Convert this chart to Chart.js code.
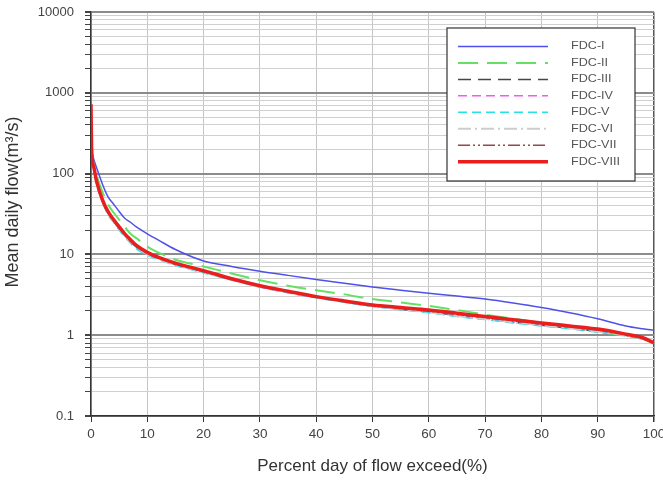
<!DOCTYPE html>
<html>
<head>
<meta charset="utf-8">
<script src="https://cdn.jsdelivr.net/npm/chart.js@4.4.1/dist/chart.umd.min.js"></script>
<style>
  html, body { margin: 0; padding: 0; background: #fff; }
  #wrap { width: 663px; height: 481px; }
</style>
</head>
<body>
<div id="wrap"><canvas id="fdcChart" width="663" height="481"></canvas></div>
<script>
// Percent of time the flow is exceeded (x positions of the points)
const percent = [0, 0.1, 0.5, 1, 2, 3, 4, 5, 6, 7, 8, 10, 12, 15, 20, 25, 30, 35, 40, 45, 50, 55, 60, 65, 70, 75, 80, 85, 90, 95, 98, 100];

// Mean daily flow (m3/s) per curve
const fdc1 = [200, 190, 150, 118, 75, 52, 42, 34, 28, 25, 22, 18, 15, 11.5, 8.3, 7.1, 6.2, 5.5, 4.9, 4.4, 3.95, 3.6, 3.3, 3.05, 2.8, 2.5, 2.2, 1.9, 1.6, 1.3, 1.2, 1.15];
const fdc2 = [200, 185, 130, 95, 60, 42, 33, 27, 22, 18, 16, 12.5, 10.5, 8.6, 7.1, 5.8, 4.8, 4.1, 3.6, 3.2, 2.8, 2.55, 2.3, 2.05, 1.8, 1.6, 1.42, 1.27, 1.12, 0.98, 0.9, 0.82];
const fdc3 = [200, 190, 115, 78, 47, 33, 26, 21, 17.5, 14.5, 12.5, 10.2, 8.9, 7.5, 6.1, 4.9, 4.0, 3.4, 2.95, 2.6, 2.3, 2.1, 1.95, 1.75, 1.6, 1.45, 1.33, 1.22, 1.12, 1.0, 0.9, 0.8];
const fdc4 = [200, 188, 112, 76, 46, 32, 25.5, 20.5, 17, 14.2, 12.2, 10.0, 8.8, 7.4, 6.0, 4.85, 3.95, 3.35, 2.92, 2.58, 2.28, 2.08, 1.92, 1.72, 1.58, 1.44, 1.32, 1.21, 1.1, 0.99, 0.9, 0.8];
const fdc5 = [200, 186, 110, 74, 45, 31, 25, 20, 16.5, 13.8, 11.8, 9.8, 8.6, 7.3, 5.9, 4.8, 3.95, 3.35, 2.9, 2.56, 2.27, 2.07, 1.9, 1.7, 1.56, 1.42, 1.3, 1.2, 1.09, 0.98, 0.89, 0.8];
const fdc6 = [200, 188, 113, 77, 46, 32.5, 25.5, 20.5, 17, 14.3, 12.3, 10.1, 8.8, 7.4, 6.0, 4.85, 4.0, 3.4, 2.95, 2.6, 2.3, 2.1, 1.93, 1.73, 1.59, 1.45, 1.33, 1.22, 1.11, 1.0, 0.9, 0.8];
const fdc7 = [200, 190, 116, 78, 47, 33, 26, 21, 17.5, 14.6, 12.6, 10.3, 9.0, 7.6, 6.1, 4.9, 4.05, 3.45, 3.0, 2.63, 2.33, 2.15, 1.98, 1.8, 1.65, 1.5, 1.38, 1.27, 1.16, 1.02, 0.92, 0.8];
const fdc8 = [720, 210, 120, 80, 48, 34, 27, 22, 18, 15.2, 13, 10.6, 9.2, 7.8, 6.3, 5.0, 4.1, 3.5, 3.0, 2.65, 2.37, 2.2, 2.05, 1.87, 1.7, 1.55, 1.42, 1.3, 1.19, 1.03, 0.93, 0.8];

const labels = ["FDC-I", "FDC-II", "FDC-III", "FDC-IV", "FDC-V", "FDC-VI", "FDC-VII", "FDC-VIII"];

// Axis ticks
const xTicks = [0, 10, 20, 30, 40, 50, 60, 70, 80, 90, 100];
const yDecades = [0.1, 1, 10, 100, 1000, 10000];
const yTitle = "Mean daily flow(m³/s)";

const FONT = "'Liberation Sans', Arial, sans-serif";

function toPoints(vals) {
  return vals.map((v, i) => ({ x: percent[i], y: v }));
}

// ─────────────────────────────
// Styles des courbes
// ─────────────────────────────
const styles = [
  { color: "rgb(80, 80, 235)",  width: 1.5, dash: [] },
  { color: "rgb(100, 225, 100)", width: 2, dash: [20, 9] },
  { color: "rgb(70, 70, 70)",   width: 1.5, dash: [13, 7] },
  { color: "rgb(240, 90, 240)", width: 1.5, dash: [9, 5] },
  { color: "rgb(40, 225, 230)", width: 1.5, dash: [9, 5] },
  { color: "rgb(205, 205, 205)", width: 2, dash: [13, 4, 2, 4] },
  { color: "rgb(150, 70, 70)",  width: 1.5, dash: [12, 3, 2, 3, 2, 3] },
  { color: "rgb(235, 30, 30)",  width: 3.5, dash: [] }
];

const series = [fdc1, fdc2, fdc3, fdc4, fdc5, fdc6, fdc7, fdc8];

// Draw order: red last (on top)
const datasets = series.map((vals, i) => ({
  label: labels[i],
  data: toPoints(vals),
  borderColor: styles[i].color,
  borderWidth: styles[i].width,
  borderDash: styles[i].dash,
  pointRadius: 0,
  fill: false,
  cubicInterpolationMode: "monotone",
  order: 8 - i
}));

// ─────────────────────────────
// Légende dans la zone du graphique
// ─────────────────────────────
const boxLegend = {
  id: "boxLegend",
  afterDraw(chart) {
    const ctx = chart.ctx;
    const left = 447, top = 28, w = 188, h = 153;
    ctx.save();
    ctx.fillStyle = "#fff";
    ctx.fillRect(left, top, w, h);
    ctx.strokeStyle = "#333";
    ctx.lineWidth = 1.2;
    ctx.strokeRect(left, top, w, h);
    ctx.font = "10.5px " + FONT;
    ctx.textBaseline = "middle";
    chart.data.datasets.forEach((ds, i) => {
      const y = 46.5 + i * 16.45;
      ctx.beginPath();
      ctx.setLineDash(ds.borderDash);
      ctx.strokeStyle = ds.borderColor;
      ctx.lineWidth = ds.borderWidth;
      ctx.moveTo(458, y);
      ctx.lineTo(548, y);
      ctx.stroke();
      ctx.setLineDash([]);
      ctx.fillStyle = "#555";
      ctx.save();
      ctx.translate(571, y);
      ctx.scale(1.2, 1);
      ctx.fillText(ds.label, 0, 0);
      ctx.restore();
    });
    ctx.restore();
  }
};

// Titre de l'axe Y (placé à la main)
const yTitlePlugin = {
  id: "yTitlePlugin",
  afterDraw(chart) {
    const ctx = chart.ctx;
    ctx.save();
    ctx.translate(13, 202);
    ctx.rotate(-Math.PI / 2);
    ctx.font = "18px " + FONT;
    ctx.fillStyle = "#333";
    ctx.textAlign = "center";
    ctx.textBaseline = "middle";
    ctx.fillText(yTitle, 0, 0);
    ctx.restore();
  }
};

new Chart(document.getElementById("fdcChart"), {
  type: "line",
  data: { datasets },
  options: {
    responsive: false,
    animation: false,
    layout: { padding: { left: 0, top: 12, right: 9, bottom: 0 } },
    plugins: {
      legend: { display: false },
      tooltip: { enabled: false }
    },
    scales: {
      x: {
        type: "linear",
        min: 0,
        max: 100,
        afterBuildTicks: (scale) => { scale.ticks = xTicks.map(v => ({ value: v })); },
        afterFit: (scale) => {
          scale.height = 65;
          scale.paddingLeft = 0;
          scale.paddingRight = 0;
        },
        ticks: {
          color: "#444",
          font: { family: FONT, size: 13.5 },
          padding: 4,
          maxRotation: 0
        },
        grid: {
          color: (c) => c.tick && c.tick.value === 100 ? "#555" : "#c4c4c4",
          lineWidth: (c) => c.tick && c.tick.value === 100 ? 1.5 : 1,
          tickColor: "#333",
          tickLength: 6
        },
        border: { color: "#333", width: 1.5 },
        title: {
          display: true,
          text: "Percent day of flow exceed(%)",
          color: "#333",
          font: { family: FONT, size: 17 },
          padding: { top: 8 }
        }
      },
      y: {
        type: "logarithmic",
        min: 0.1,
        max: 10000,
        afterBuildTicks: (scale) => {
          const t = [];
          yDecades.forEach((d, k) => {
            if (k === yDecades.length - 1) { t.push({ value: d, major: true }); return; }
            for (let m = 1; m <= 9; m++) t.push({ value: +(d * m).toPrecision(3), major: m === 1 });
          });
          scale.ticks = t;
        },
        afterFit: (scale) => {
          scale.width = 91;
          scale.paddingTop = 0;
          scale.paddingBottom = 0;
        },
        ticks: {
          autoSkip: false,
          color: "#444",
          font: { family: FONT, size: 13 },
          padding: 11,
          callback: (v) => yDecades.includes(v) ? String(v) : ""
        },
        grid: {
          color: (c) => c.tick && yDecades.includes(c.tick.value) ? "#8c8c8c" : "#d0d0d0",
          lineWidth: (c) => c.tick && yDecades.includes(c.tick.value) ? 2 : 1,
          tickColor: "#444",
          tickLength: 6
        },
        border: { color: "#333", width: 1.5 },
        title: { display: false }
      }
    }
  },
  plugins: [boxLegend, yTitlePlugin]
});
</script>
</body>
</html>
